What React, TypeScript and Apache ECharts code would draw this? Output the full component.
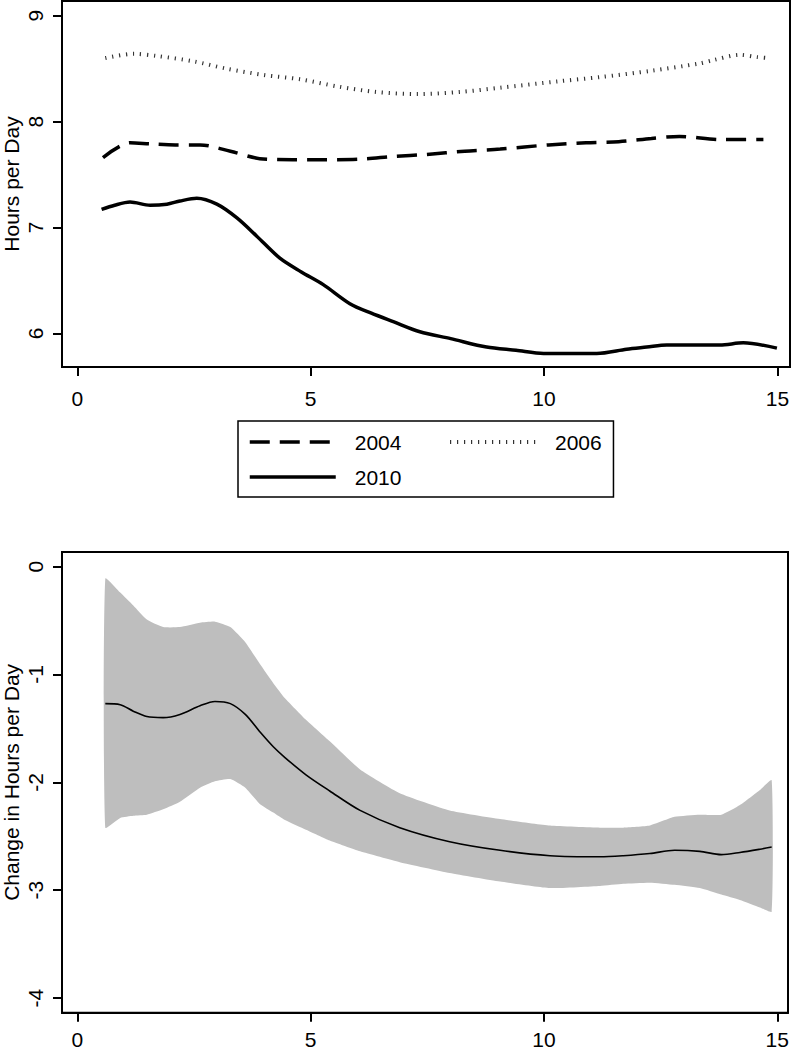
import React, { useEffect, useRef } from "react";
import * as echarts from "echarts";

// ---------- tick labels ----------
const xTicks = [0, 5, 10, 15];
const topYTicks = [6, 7, 8, 9];
const bottomYTicks = [0, -1, -2, -3, -4];

// ---------- top panel: hours per day by year ----------
const x2004 = [0.55, 1.13, 1.56, 2.1, 2.63, 3.28, 3.91, 4.62, 5.3, 6.06, 6.77, 7.49, 8.3, 9.06, 10.1, 10.9, 11.6, 12.3, 12.9, 13.8, 14.7];
const y2004 = [7.66, 7.8, 7.79, 7.78, 7.78, 7.72, 7.65, 7.64, 7.64, 7.645, 7.67, 7.69, 7.72, 7.74, 7.78, 7.8, 7.81, 7.84, 7.86, 7.83, 7.83];

const x2006 = [0.6, 1.2, 1.7, 2.48, 3.2, 4.0, 4.77, 5.6, 6.4, 7.3, 8.2, 9.06, 10.3, 11.2, 12.3, 13.34, 13.62, 14.2, 14.56, 14.8];
const y2006 = [8.6, 8.64, 8.62, 8.57, 8.5, 8.44, 8.4, 8.33, 8.28, 8.26, 8.28, 8.32, 8.38, 8.42, 8.48, 8.55, 8.58, 8.63, 8.61, 8.6];

const x2010 = [0.52, 0.8, 1.13, 1.56, 1.92, 2.2, 2.56, 2.99, 3.42, 3.84, 4.34, 4.8, 5.27, 5.84, 6.3, 6.77, 7.34, 8.0, 8.77, 9.4, 9.99, 10.6, 11.13, 11.77, 12.2, 12.63, 13.2, 13.77, 14.27, 14.99];
const y2010 = [7.17, 7.21, 7.24, 7.21, 7.22, 7.25, 7.275, 7.22, 7.09, 6.92, 6.71, 6.58, 6.46, 6.28, 6.19, 6.11, 6.015, 5.95, 5.87, 5.84, 5.81, 5.81, 5.81, 5.85, 5.87, 5.89, 5.89, 5.89, 5.91, 5.86];

// ---------- bottom panel: change in hours per day with confidence band ----------
const xChange = [0.6, 0.92, 1.2, 1.49, 1.84, 2.2, 2.63, 2.95, 3.28, 3.6, 3.91, 4.2, 4.45, 4.9, 5.41, 6.06, 6.91, 7.98, 9.06, 10.13, 11.2, 11.7, 12.27, 12.8, 13.34, 13.8, 14.2, 14.63, 14.88];
const change = [-1.27, -1.28, -1.34, -1.39, -1.4, -1.37, -1.29, -1.25, -1.27, -1.37, -1.53, -1.67, -1.77, -1.93, -2.08, -2.26, -2.42, -2.55, -2.63, -2.68, -2.69, -2.68, -2.66, -2.63, -2.64, -2.67, -2.65, -2.62, -2.6];
const upper = [-0.11, -0.24, -0.36, -0.49, -0.56, -0.56, -0.52, -0.51, -0.56, -0.7, -0.9, -1.08, -1.22, -1.42, -1.62, -1.88, -2.1, -2.26, -2.34, -2.4, -2.42, -2.42, -2.4, -2.32, -2.3, -2.3, -2.21, -2.07, -1.98];
const lower = [-2.42, -2.33, -2.31, -2.3, -2.25, -2.18, -2.05, -1.99, -1.97, -2.05, -2.2, -2.28, -2.35, -2.44, -2.54, -2.64, -2.74, -2.84, -2.92, -2.98, -2.96, -2.94, -2.93, -2.95, -2.98, -3.04, -3.09, -3.16, -3.2];

const FONT = "'Liberation Sans', Arial, sans-serif";
const BLACK = "#000";
const BAND = "#bebebe";

function pairs(xs: number[], ys: number[]) {
  return xs.map((x, i) => [x, ys[i]]);
}

function xAxisCfg(gridIndex: number, max: number, labelMargin: number) {
  return {
    type: "value",
    gridIndex,
    min: -0.328,
    max,
    splitLine: { show: false },
    axisLine: { show: true, onZero: false, lineStyle: { color: BLACK, width: 2 } },
    axisTick: { show: true, customValues: xTicks, length: 9, lineStyle: { color: BLACK, width: 2 } },
    axisLabel: { customValues: xTicks, color: BLACK, fontSize: 21, fontFamily: FONT, margin: labelMargin },
  };
}

function yAxisCfg(gridIndex: number, min: number, max: number, ticks: number[], name: string) {
  return {
    type: "value",
    gridIndex,
    min,
    max,
    name,
    nameLocation: "middle",
    nameRotate: 90,
    nameGap: 40,
    nameMoveOverlap: false,
    nameTextStyle: { color: BLACK, fontSize: 21, fontFamily: FONT },
    splitLine: { show: false },
    axisLine: { show: true, onZero: false, lineStyle: { color: BLACK, width: 2 } },
    axisTick: { show: true, customValues: ticks, length: 9, lineStyle: { color: BLACK, width: 2 } },
    axisLabel: { customValues: ticks, rotate: 90, color: BLACK, fontSize: 21, fontFamily: FONT, margin: 16 },
  };
}

const legendCommon = {
  itemWidth: 86,
  itemHeight: 21,
  selectedMode: false,
  itemStyle: { color: "transparent", opacity: 0, borderWidth: 0 },
  lineStyle: { width: "inherit" },
  textStyle: { color: BLACK, fontSize: 21, fontFamily: FONT, padding: [0, 0, 0, 14] },
};

const gridCommon = {
  show: true,
  borderColor: BLACK,
  borderWidth: 2,
  backgroundColor: "transparent",
  containLabel: false,
  outerBoundsMode: "none",
};

export default function App() {
  const ref = useRef<HTMLDivElement>(null);

  useEffect(() => {
    const chart = echarts.init(ref.current!, null, { renderer: "svg" });
    const option = {
      animation: false,
      backgroundColor: "#fff",
      textStyle: { fontFamily: FONT },
      grid: [
        { ...gridCommon, left: 62, top: 1, width: 728, height: 366 },
        { ...gridCommon, left: 62, top: 552, width: 726, height: 460.7 },
      ],
      xAxis: [xAxisCfg(0, 15.27, 21), xAxisCfg(1, 15.23, 16)],
      yAxis: [
        yAxisCfg(0, 5.682, 9.139, topYTicks, "Hours per Day"),
        yAxisCfg(1, -4.136, 0.136, bottomYTicks, "Change in Hours per Day"),
      ],
      legend: [
        {
          ...legendCommon,
          data: ["2004", "2010"],
          orient: "vertical",
          left: 238,
          top: 421,
          padding: [10.5, 212, 9.5, 10],
          itemGap: 14,
          borderColor: BLACK,
          borderWidth: 1.5,
        },
        {
          ...legendCommon,
          data: ["2006"],
          orient: "vertical",
          left: 448,
          top: 431.5,
          padding: 0,
        },
      ],
      series: [
        {
          name: "2004",
          type: "line",
          xAxisIndex: 0,
          yAxisIndex: 0,
          data: pairs(x2004, y2004),
          symbol: "none",
          smooth: 0.3,
          lineStyle: { color: BLACK, width: 3.5, type: [20, 10] },
          itemStyle: { color: BLACK },
        },
        {
          name: "2006",
          type: "line",
          xAxisIndex: 0,
          yAxisIndex: 0,
          data: pairs(x2006, y2006),
          symbol: "none",
          smooth: 0.3,
          lineStyle: { color: "#333", width: 4, type: [1.2, 5.8] },
          itemStyle: { color: "#333" },
        },
        {
          name: "2010",
          type: "line",
          xAxisIndex: 0,
          yAxisIndex: 0,
          data: pairs(x2010, y2010),
          symbol: "none",
          smooth: 0.3,
          lineStyle: { color: BLACK, width: 3.5 },
          itemStyle: { color: BLACK },
        },
        {
          name: "band",
          type: "custom",
          xAxisIndex: 1,
          yAxisIndex: 1,
          silent: true,
          z: 1,
          data: xChange.map((x, i) => [x, lower[i], upper[i]]),
          encode: { x: 0, y: [1, 2] },
          renderItem: (params: any, api: any) => {
            if (params.dataIndex !== 0) return null;
            const top = xChange.map((x, i) => api.coord([x, upper[i]]));
            const bot = xChange.map((x, i) => api.coord([x, lower[i]])).reverse();
            return {
              type: "polygon",
              shape: { points: top.concat(bot), smooth: 0.15 },
              style: { fill: BAND, stroke: "none" },
            };
          },
        },
        {
          name: "change",
          type: "line",
          xAxisIndex: 1,
          yAxisIndex: 1,
          data: pairs(xChange, change),
          symbol: "none",
          smooth: 0.3,
          lineStyle: { color: BLACK, width: 1.6 },
          z: 3,
        },
      ],
    };
    chart.setOption(option as any);
    return () => chart.dispose();
  }, []);

  return (
    <div
      ref={ref}
      style={{ position: "absolute", left: 0, top: 0, width: 793, height: 1050, background: "#fff" }}
    />
  );
}
